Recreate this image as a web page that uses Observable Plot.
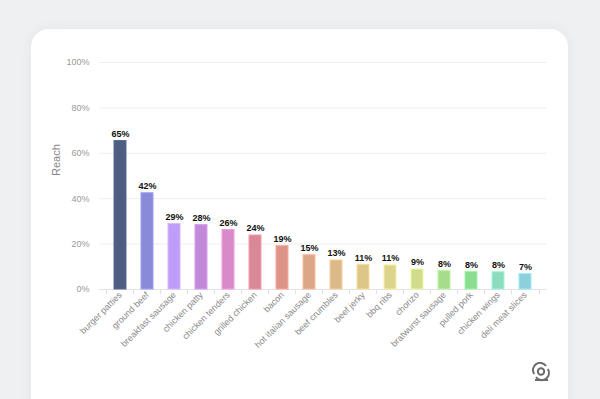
<!DOCTYPE html>
<html>
<head>
<meta charset="utf-8">
<script src="https://cdn.jsdelivr.net/npm/d3@7"></script>
<script src="https://cdn.jsdelivr.net/npm/@observablehq/plot@0.6"></script>
<style>
  html, body { margin: 0; padding: 0; }
  body { width: 600px; height: 399px; background: #eff0f2; position: relative; overflow: hidden; font-family: "Liberation Sans", Arial, sans-serif; }
  #card { position: absolute; left: 31px; top: 29px; width: 537px; height: 420px; background: #fff; border-radius: 18px; box-shadow: 0 0 14px rgba(0,0,0,0.05); }
  #chart { position: absolute; left: 0; top: 0; }
  #logo { position: absolute; left: 531px; top: 362px; }
</style>
</head>
<body>
<div id="card"></div>
<div id="chart"></div>
<svg id="logo" width="20" height="20" viewBox="0 0 20 20">
  <circle cx="10" cy="9.5" r="3.2" fill="none" stroke="#6b6b6b" stroke-width="2"/>
  <path d="M3.2 12 A7 7 0 0 1 15 4" fill="none" stroke="#6b6b6b" stroke-width="2"/>
  <path d="M16.8 7 A7 7 0 0 1 5 15" fill="none" stroke="#6b6b6b" stroke-width="2"/>
  <path d="M4 18 L17 18" stroke="#6b6b6b" stroke-width="2"/>
</svg>
<script>
const categories = ["burger patties","ground beef","breakfast sausage","chicken patty","chicken tenders","grilled chicken","bacon","hot italian sausage","beef crumbles","beef jerky","bbq ribs","chorizo","bratwurst sausage","pulled pork","chicken wings","deli meat slices"];
const values = [65.4, 42.4, 28.8, 28.4, 26.2, 23.8, 19.1, 15.1, 12.8, 10.9, 10.6, 8.8, 8.1, 7.7, 7.6, 6.8];
const labels = ["65%","42%","29%","28%","26%","24%","19%","15%","13%","11%","11%","9%","8%","8%","8%","7%"];
const colors = ["#4e5e80","#8a8ad9","#be9ef9","#c08ad9","#d98ac8","#d98897","#de9488","#dca688","#dcb988","#dcc688","#dcd48c","#d0dc8c","#a6dc8c","#8cdc92","#8cdcc0","#8cd0dc"];
const yTicks = [0, 20, 40, 60, 80, 100];

const data = categories.map((c, i) => ({cat: c, value: values[i], label: labels[i], color: colors[i]}));

const W = 600, H = 399;
const mL = 99, mR = 53.5, mT = 62, mB = 110;
const step = (W - mL - mR) / categories.length;
const font = "'Liberation Sans', Arial, sans-serif";

const chart = Plot.plot({
  width: W,
  height: H,
  marginLeft: mL,
  marginRight: mR,
  marginTop: mT,
  marginBottom: mB,
  style: {background: "transparent", fontFamily: font},
  x: {domain: categories, padding: 0.54, align: 0.5},
  y: {domain: [0, 100]},
  marks: [
    Plot.gridY(yTicks, {stroke: "#eeeeee", strokeOpacity: 1, strokeWidth: 1}),
    Plot.axisY(yTicks, {tickSize: 0, tickPadding: 10, tickFormat: d => d + "%", fill: "#999", fontSize: 9, label: null}),
    Plot.text(["Reach"], {frameAnchor: "left", dx: -43, rotate: -90, fill: "#888", fontSize: 11}),
    Plot.ruleY([0], {stroke: "#e2e2e2"}),
    Plot.ruleX(categories, {x: d => d, y1: 0, y2: -2.3, dx: -step / 2, stroke: "#e2e2e2"}),
    Plot.ruleX([categories[categories.length - 1]], {x: d => d, y1: 0, y2: -2.3, dx: step / 2, stroke: "#e2e2e2"}),
    Plot.barY(data, {x: "cat", y: "value", fill: "color", stroke: d => d3.color(d.color).brighter(0.35).formatHex(), strokeWidth: 1}),
    Plot.text(data, {x: "cat", y: "value", text: "label", dy: -7, fill: "#111", fontWeight: "bold", fontSize: 9}),
    Plot.axisX({tickSize: 0, tickPadding: 4, tickRotate: -45, fill: "#8a8a8a", fontSize: 9, label: null})
  ]
});
document.getElementById("chart").appendChild(chart);
</script>
</body>
</html>
